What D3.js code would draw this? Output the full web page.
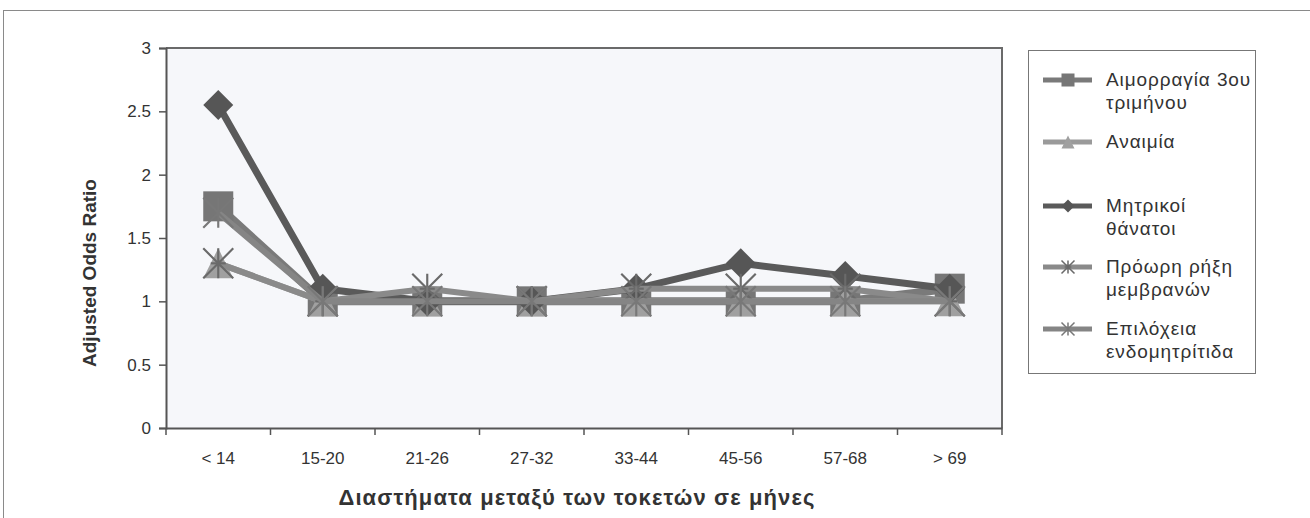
<!DOCTYPE html>
<html>
<head>
<meta charset="utf-8">
<script src="https://cdn.jsdelivr.net/npm/d3@7"></script>
<style>
  html, body { margin: 0; padding: 0; background: #fff; }
  svg { display: block; font-family: "Liberation Sans", Arial, sans-serif; }
</style>
</head>
<body>
<svg id="chart" width="1310" height="518"></svg>
<script>
// Birth-interval categories (months)
const categories = ["< 14", "15-20", "21-26", "27-32", "33-44", "45-56", "57-68", "> 69"];

// Adjusted odds ratios per outcome
const haemorrhage  = [1.75, 1.0, 1.0, 1.0, 1.0, 1.0, 1.0, 1.1];
const anaemia      = [1.3, 1.0, 1.0, 1.0, 1.0, 1.0, 1.0, 1.0];
const maternalDeath = [2.55, 1.1, 1.0, 1.0, 1.1, 1.3, 1.2, 1.1];
const pprom        = [1.3, 1.0, 1.1, 1.0, 1.1, 1.1, 1.1, 1.0];
const endometritis = [1.7, 1.0, 1.0, 1.0, 1.0, 1.0, 1.0, 1.0];

const yTicks = [0, 0.5, 1, 1.5, 2, 2.5, 3];

const series = [
  { name: ["Αιμορραγία 3ου", "τριμήνου"], values: haemorrhage,   symbol: "square",   line: "#7a7a7a", fill: "#767676", width: 8 },
  { name: ["Αναιμία"],                    values: anaemia,       symbol: "triangle", line: "#9a9a9a", fill: "#a0a0a0", width: 6 },
  { name: ["Μητρικοί", "θάνατοι"],        values: maternalDeath, symbol: "diamond",  line: "#5a5a5a", fill: "#565656", width: 7 },
  { name: ["Πρόωρη ρήξη", "μεμβρανών"],  values: pprom,         symbol: "asterisk", line: "#8a8a8a", fill: "#6a6a6a", width: 6 },
  { name: ["Επιλόχεια", "ενδομητρίτιδα"], values: endometritis,  symbol: "star",     line: "#858585", fill: "#787878", width: 6 }
];

const svg = d3.select("#chart");

// outer chart frame
svg.append("rect")
  .attr("x", 3.5).attr("y", 10.5).attr("width", 1320).attr("height", 520)
  .attr("fill", "none").attr("stroke", "#8a8a8a").attr("stroke-width", 1);

const plot = { left: 166, right: 1002, top: 48, bottom: 428 };

const x = d3.scaleBand().domain(categories).range([plot.left, plot.right]).padding(0);
const y = d3.scaleLinear().domain([0, 3]).range([plot.bottom, plot.top]);

// plot background
svg.append("rect")
  .attr("x", plot.left).attr("y", plot.top)
  .attr("width", plot.right - plot.left).attr("height", plot.bottom - plot.top)
  .attr("fill", "#f6f7fa");

// top and right frame of the plot area
svg.append("path")
  .attr("d", `M${plot.left},${plot.top}H${plot.right}V${plot.bottom}`)
  .attr("fill", "none").attr("stroke", "#6a6a6a").attr("stroke-width", 2);

// y axis
const yAxis = svg.append("g")
  .attr("transform", `translate(${plot.left},0)`)
  .call(d3.axisLeft(y).tickValues(yTicks).tickSize(7).tickPadding(8)
    .tickFormat(d => String(d)));
yAxis.select(".domain").attr("stroke", "#555").attr("stroke-width", 2);
yAxis.selectAll(".tick line").attr("stroke", "#555").attr("stroke-width", 1.5);
yAxis.selectAll(".tick text")
  .attr("font-size", 17).attr("fill", "#333")
  .attr("font-family", "Liberation Sans, Arial, sans-serif");

// x axis, with ticks on the category boundaries
const xAxis = svg.append("g")
  .attr("transform", `translate(0,${plot.bottom})`)
  .call(d3.axisBottom(x).tickSize(0).tickPadding(24));
xAxis.select(".domain").attr("stroke", "#555").attr("stroke-width", 2);
xAxis.selectAll(".tick text")
  .attr("font-size", 17).attr("fill", "#333")
  .attr("font-family", "Liberation Sans, Arial, sans-serif");
const boundaries = categories.map(c => x(c)).concat([x(categories[categories.length - 1]) + x.bandwidth()]);
xAxis.selectAll(".bound").data(boundaries).join("line")
  .attr("class", "bound")
  .attr("x1", d => d).attr("x2", d => d)
  .attr("y1", 0).attr("y2", 7)
  .attr("stroke", "#555").attr("stroke-width", 1.5);

// axis titles
svg.append("text")
  .attr("transform", `translate(96,273) rotate(-90)`)
  .attr("text-anchor", "middle")
  .attr("font-size", 19).attr("font-weight", "bold").attr("fill", "#333")
  .text("Adjusted Odds Ratio");

svg.append("text")
  .attr("x", 577).attr("y", 505)
  .attr("text-anchor", "middle")
  .attr("font-size", 22).attr("font-weight", "bold").attr("fill", "#333")
  .attr("letter-spacing", 1.1)
  .text("Διαστήματα μεταξύ των τοκετών σε μήνες");

// marker shapes
function drawMarker(g, s, size) {
  const h = size / 2;
  if (s.symbol === "square") {
    g.append("rect").attr("x", -h).attr("y", -h).attr("width", size).attr("height", size)
      .attr("fill", s.fill);
  } else if (s.symbol === "triangle") {
    g.append("path").attr("d", `M0,${-h}L${h},${h}L${-h},${h}Z`).attr("fill", s.fill);
  } else if (s.symbol === "diamond") {
    g.append("path").attr("d", `M0,${-h}L${h},0L0,${h}L${-h},0Z`).attr("fill", s.fill);
  } else {
    const sw = Math.max(1.5, size / 14);
    g.append("path")
      .attr("d", `M${-h},${-h}L${h},${h}M${h},${-h}L${-h},${h}M0,${-h}V${h}`)
      .attr("stroke", s.fill).attr("stroke-width", sw).attr("fill", "none");
    if (s.symbol === "asterisk") {
      g.append("path").attr("d", `M${-h * 0.5},0H${h * 0.5}`)
        .attr("stroke", s.fill).attr("stroke-width", sw);
    }
  }
}

const line = d3.line()
  .x((d, i) => x(categories[i]) + x.bandwidth() / 2)
  .y(d => y(d));

const seriesG = svg.append("g");
series.forEach(s => {
  const g = seriesG.append("g");
  g.append("path")
    .datum(s.values)
    .attr("d", line)
    .attr("fill", "none")
    .attr("stroke", s.line)
    .attr("stroke-width", s.width)
    .attr("stroke-linejoin", "round");
  s.values.forEach((v, i) => {
    const m = g.append("g")
      .attr("transform", `translate(${x(categories[i]) + x.bandwidth() / 2},${y(v)})`);
    drawMarker(m, s, 30);
  });
});

// legend
const legend = svg.append("g");
legend.append("rect")
  .attr("x", 1028.5).attr("y", 50.5).attr("width", 227).attr("height", 323)
  .attr("fill", "#fff").attr("stroke", "#777").attr("stroke-width", 1);

const legendRows = [80, 142, 206, 267, 329];
series.forEach((s, i) => {
  const ly = legendRows[i];
  const g = legend.append("g");
  g.append("line")
    .attr("x1", 1043).attr("x2", 1092).attr("y1", ly).attr("y2", ly)
    .attr("stroke", s.line).attr("stroke-width", 5);
  const m = g.append("g").attr("transform", `translate(1068,${ly})`);
  drawMarker(m, s, 13);
  s.name.forEach((t, j) => {
    g.append("text")
      .attr("x", 1106).attr("y", ly + 6 + j * 23)
      .attr("font-size", 19).attr("letter-spacing", 0.9).attr("fill", "#333")
      .text(t);
  });
});
</script>
</body>
</html>
